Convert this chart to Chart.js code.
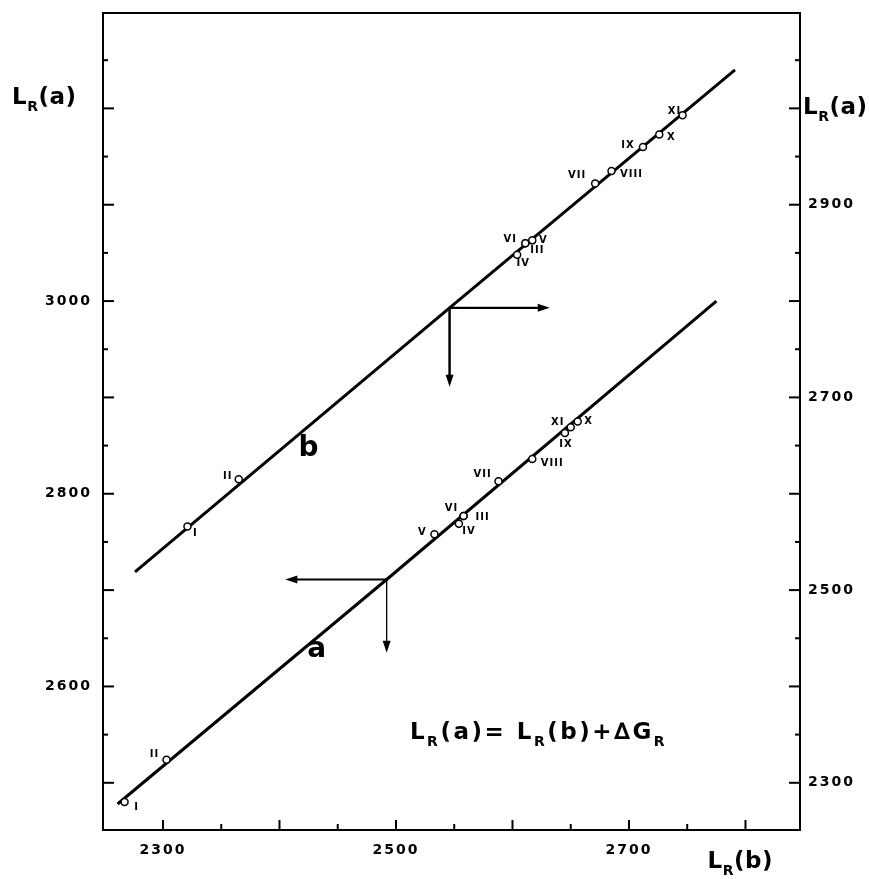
<!DOCTYPE html>
<html>
<head>
  <title>L_R(a) / L_R(b)</title>
  <script src="https://cdn.jsdelivr.net/npm/chart.js"></script>
  <style>
    body { margin: 0; background: #fff; }
  </style>
</head>
<body>
  <canvas id="chart" width="869" height="879"></canvas>

  <script>
    // names of the measured points, same order in every point array
    const pointNames = ["I", "II", "III", "IV", "V", "VI", "VII", "VIII", "IX", "X", "XI"];

    // line a, read on the left axis
    const aLineX = [2261, 2492, 2775];
    const aLineY = [2478, 2711, 3000];
    const aPointX = [2267, 2303, 2558, 2554, 2533, 2558, 2588, 2617, 2645, 2656, 2650];
    const aPointY = [2480, 2524, 2777, 2769, 2758, 2777, 2813, 2836, 2863, 2875, 2869];

    // line b, read on the right axis
    const bLineX = [2276, 2546, 2791];
    const bLineY = [2519, 2793, 3040];
    const bPointX = [2321, 2365, 2611, 2604, 2617, 2611, 2671, 2685, 2712, 2726, 2746];
    const bPointY = [2566, 2615, 2860, 2848, 2863, 2860, 2922, 2935, 2960, 2973, 2993];

    // arrows: [x on line, y on line, x of the sideways tip, y of the downward tip]
    const aArrow = [2492, 2711, 2405, 2635];
    const bArrow = [2546, 2793, 2632, 2711];

    // tick marks (every 50) and the ones that carry a label
    const xTicks = [2250, 2300, 2350, 2400, 2450, 2500, 2550, 2600, 2650, 2700, 2750, 2800];
    const leftTicks = [2500, 2550, 2600, 2650, 2700, 2750, 2800, 2850, 2900, 2950, 3000, 3050, 3100, 3150, 3200, 3250];
    const rightTicks = [2300, 2350, 2400, 2450, 2500, 2550, 2600, 2650, 2700, 2750, 2800, 2850, 2900, 2950, 3000, 3050];
    const xTickLabels = [2300, 2500, 2700];
    const leftTickLabels = [2600, 2800, 3000];
    const rightTickLabels = [2300, 2500, 2700, 2900];

    const FONT = '"DejaVu Sans", sans-serif';

    // where each roman numeral sits next to its circle (pixels)
    const aLabelDx = [12, -12, 19, 10, -12, -12, -16, 20, 1, 11, -13];
    const aLabelDy = [5, -5, 1, 8, -2, -8, -7, 4, 11, 0, -5];
    const bLabelDx = [8, -11, 12, 6, 11, -15, -18, 20, -15, 12, -8];
    const bLabelDy = [7, -3, 7, 9, 0, -4, -8, 3, -2, 3, -4];

    function toXY(xs, ys) {
      return xs.map((x, i) => ({ x: x, y: ys[i] }));
    }

    // text with subscripts: pieces = [[text, isSub], ...]
    function drawPieces(ctx, x, y, size, spacing, pieces) {
      ctx.save();
      ctx.fillStyle = "#000";
      ctx.textAlign = "left";
      ctx.textBaseline = "alphabetic";
      ctx.letterSpacing = spacing + "px";
      pieces.forEach(p => {
        const sub = p[1];
        const s = sub ? Math.round(size * 0.62) : size;
        ctx.font = "bold " + s + "px " + FONT;
        ctx.fillText(p[0], x, sub ? y + size * 0.3 : y);
        x += ctx.measureText(p[0]).width;
      });
      ctx.restore();
    }

    function arrowHead(ctx, x, y, dx, dy) {
      const len = 12, half = 4;
      ctx.beginPath();
      ctx.moveTo(x, y);
      ctx.lineTo(x - dx * len - dy * half, y - dy * len + dx * half);
      ctx.lineTo(x - dx * len + dy * half, y - dy * len - dx * half);
      ctx.closePath();
      ctx.fill();
    }

    function drawArrows(chart, arr, yId, downWidth) {
      const ctx = chart.ctx;
      const sx = chart.scales.x, sy = chart.scales[yId];
      const x0 = sx.getPixelForValue(arr[0]), y0 = sy.getPixelForValue(arr[1]);
      const x1 = sx.getPixelForValue(arr[2]), y1 = sy.getPixelForValue(arr[3]);
      const dir = x1 > x0 ? 1 : -1;
      ctx.save();
      ctx.strokeStyle = "#000";
      ctx.fillStyle = "#000";
      ctx.lineWidth = 2.2;
      ctx.beginPath();
      ctx.moveTo(x0, y0);
      ctx.lineTo(x1 - dir * 8, y0);
      ctx.stroke();
      arrowHead(ctx, x1, y0, dir, 0);
      ctx.lineWidth = downWidth;
      ctx.beginPath();
      ctx.moveTo(x0, y0);
      ctx.lineTo(x0, y1 - 8);
      ctx.stroke();
      arrowHead(ctx, x0, y1, 0, 1);
      ctx.restore();
    }

    function drawNames(chart, xs, ys, yId, dxs, dys) {
      const ctx = chart.ctx;
      ctx.save();
      ctx.fillStyle = "#000";
      ctx.font = "bold 10px " + FONT;
      ctx.letterSpacing = "1px";
      ctx.textAlign = "center";
      ctx.textBaseline = "middle";
      pointNames.forEach((name, i) => {
        const px = chart.scales.x.getPixelForValue(xs[i]);
        const py = chart.scales[yId].getPixelForValue(ys[i]);
        ctx.fillText(name, px + dxs[i], py + dys[i]);
      });
      ctx.restore();
    }

    // tick marks point into the plot, long every 100, short every 50
    function drawInwardTicks(chart) {
      const ctx = chart.ctx, area = chart.chartArea;
      ctx.save();
      ctx.strokeStyle = "#000";
      ctx.lineWidth = 2;
      chart.scales.x.ticks.forEach(t => {
        const px = chart.scales.x.getPixelForValue(t.value);
        if (px < area.left + 3 || px > area.right - 3) return;
        ctx.beginPath();
        ctx.moveTo(px, area.bottom);
        ctx.lineTo(px, area.bottom - (t.value % 100 ? 6 : 10));
        ctx.stroke();
      });
      [["y", area.left, 1], ["y2", area.right, -1]].forEach(([id, edge, dir]) => {
        const s = chart.scales[id];
        s.ticks.forEach(t => {
          const py = s.getPixelForValue(t.value);
          if (py < area.top + 3 || py > area.bottom - 3) return;
          ctx.beginPath();
          ctx.moveTo(edge, py);
          ctx.lineTo(edge + dir * (t.value % 100 ? 5 : 11), py);
          ctx.stroke();
        });
      });
      // closing line along the top
      ctx.beginPath();
      ctx.moveTo(area.left, area.top);
      ctx.lineTo(area.right, area.top);
      ctx.stroke();
      ctx.restore();
    }

    const extras = {
      id: "extras",
      beforeDraw(chart) {
        chart.ctx.letterSpacing = "2px";
      },
      afterDatasetsDraw(chart) {
        const ctx = chart.ctx;
        const sx = chart.scales.x, sy = chart.scales.y, sy2 = chart.scales.y2;
        const area = chart.chartArea;
        drawInwardTicks(chart);
        drawArrows(chart, aArrow, "y", 1.3);
        drawArrows(chart, bArrow, "y2", 2.5);
        drawNames(chart, aPointX, aPointY, "y", aLabelDx, aLabelDy);
        drawNames(chart, bPointX, bPointY, "y2", bLabelDx, bLabelDy);

        ctx.save();
        ctx.fillStyle = "#000";
        ctx.letterSpacing = "0px";
        ctx.font = "bold 28px " + FONT;
        ctx.textAlign = "center";
        ctx.textBaseline = "middle";
        ctx.fillText("b", sx.getPixelForValue(2425), sy2.getPixelForValue(2647));
        ctx.fillText("a", sx.getPixelForValue(2432), sy.getPixelForValue(2638));
        ctx.restore();

        drawPieces(ctx, sx.getPixelForValue(2512), sy.getPixelForValue(2545), 23, 2.5,
          [["L", 0], ["R", 1], ["(a)= ", 0], ["L", 0], ["R", 1], ["(b)+", 0], ["\u2206G", 0], ["R", 1]]);

        drawPieces(ctx, 12, sy.getPixelForValue(3200) - 4, 23, 0.5, [["L", 0], ["R", 1], ["(a)", 0]]);
        drawPieces(ctx, area.right + 3, sy2.getPixelForValue(3000) + 6, 23, 0.5, [["L", 0], ["R", 1], ["(a)", 0]]);
        drawPieces(ctx, sx.getPixelForValue(2800) - 38, 868, 23, 0.5, [["L", 0], ["R", 1], ["(b)", 0]]);
      }
    };

    const tickFont = { family: FONT, size: 14, weight: "bold" };

    function axisTicks(list, padding) {
      return {
        autoSkip: false,
        maxRotation: 0,
        padding: padding,
        color: "#000",
        font: tickFont,
        callback: v => (list.includes(v) ? String(v) : "")
      };
    }

    function setTicks(values) {
      return s => { s.ticks = values.map(v => ({ value: v })); };
    }

    const axisBorder = { display: true, color: "#000", width: 2 };
    const noGrid = { drawOnChartArea: false, drawTicks: false };

    new Chart(document.getElementById("chart").getContext("2d"), {
      type: "scatter",
      data: {
        datasets: [
          {
            label: "a points",
            data: toXY(aPointX, aPointY),
            yAxisID: "y",
            order: 0,
            pointRadius: 3.5,
            pointBorderWidth: 1.5,
            pointBackgroundColor: "#fff",
            pointBorderColor: "#000"
          },
          {
            label: "b points",
            data: toXY(bPointX, bPointY),
            yAxisID: "y2",
            order: 0,
            pointRadius: 3.5,
            pointBorderWidth: 1.5,
            pointBackgroundColor: "#fff",
            pointBorderColor: "#000"
          },
          {
            label: "a",
            data: toXY(aLineX, aLineY),
            yAxisID: "y",
            order: 1,
            showLine: true,
            pointRadius: 0,
            borderColor: "#000",
            borderWidth: 3
          },
          {
            label: "b",
            data: toXY(bLineX, bLineY),
            yAxisID: "y2",
            order: 1,
            showLine: true,
            pointRadius: 0,
            borderColor: "#000",
            borderWidth: 3
          }
        ]
      },
      options: {
        responsive: false,
        animation: false,
        events: [],
        layout: { padding: { top: 13, left: 0, right: 0, bottom: 0 } },
        plugins: { legend: { display: false }, tooltip: { enabled: false } },
        scales: {
          x: {
            type: "linear",
            position: "bottom",
            min: 2248.5,
            max: 2846.8,
            grid: noGrid,
            border: axisBorder,
            ticks: axisTicks(xTickLabels, 12),
            afterBuildTicks: setTicks(xTicks),
            afterFit: s => { s.height = 49; s.paddingLeft = 0; s.paddingRight = 0; }
          },
          y: {
            type: "linear",
            position: "left",
            min: 2451,
            max: 3299,
            grid: noGrid,
            border: axisBorder,
            ticks: axisTicks(leftTickLabels, 11),
            afterBuildTicks: setTicks(leftTicks),
            afterFit: s => { s.width = 103; s.paddingTop = 0; s.paddingBottom = 0; }
          },
          y2: {
            type: "linear",
            position: "right",
            min: 2251,
            max: 3099,
            grid: noGrid,
            border: axisBorder,
            ticks: axisTicks(rightTickLabels, 8),
            afterBuildTicks: setTicks(rightTicks),
            afterFit: s => { s.width = 69; s.paddingTop = 0; s.paddingBottom = 0; }
          }
        }
      },
      plugins: [extras]
    });
  </script>
</body>
</html>
